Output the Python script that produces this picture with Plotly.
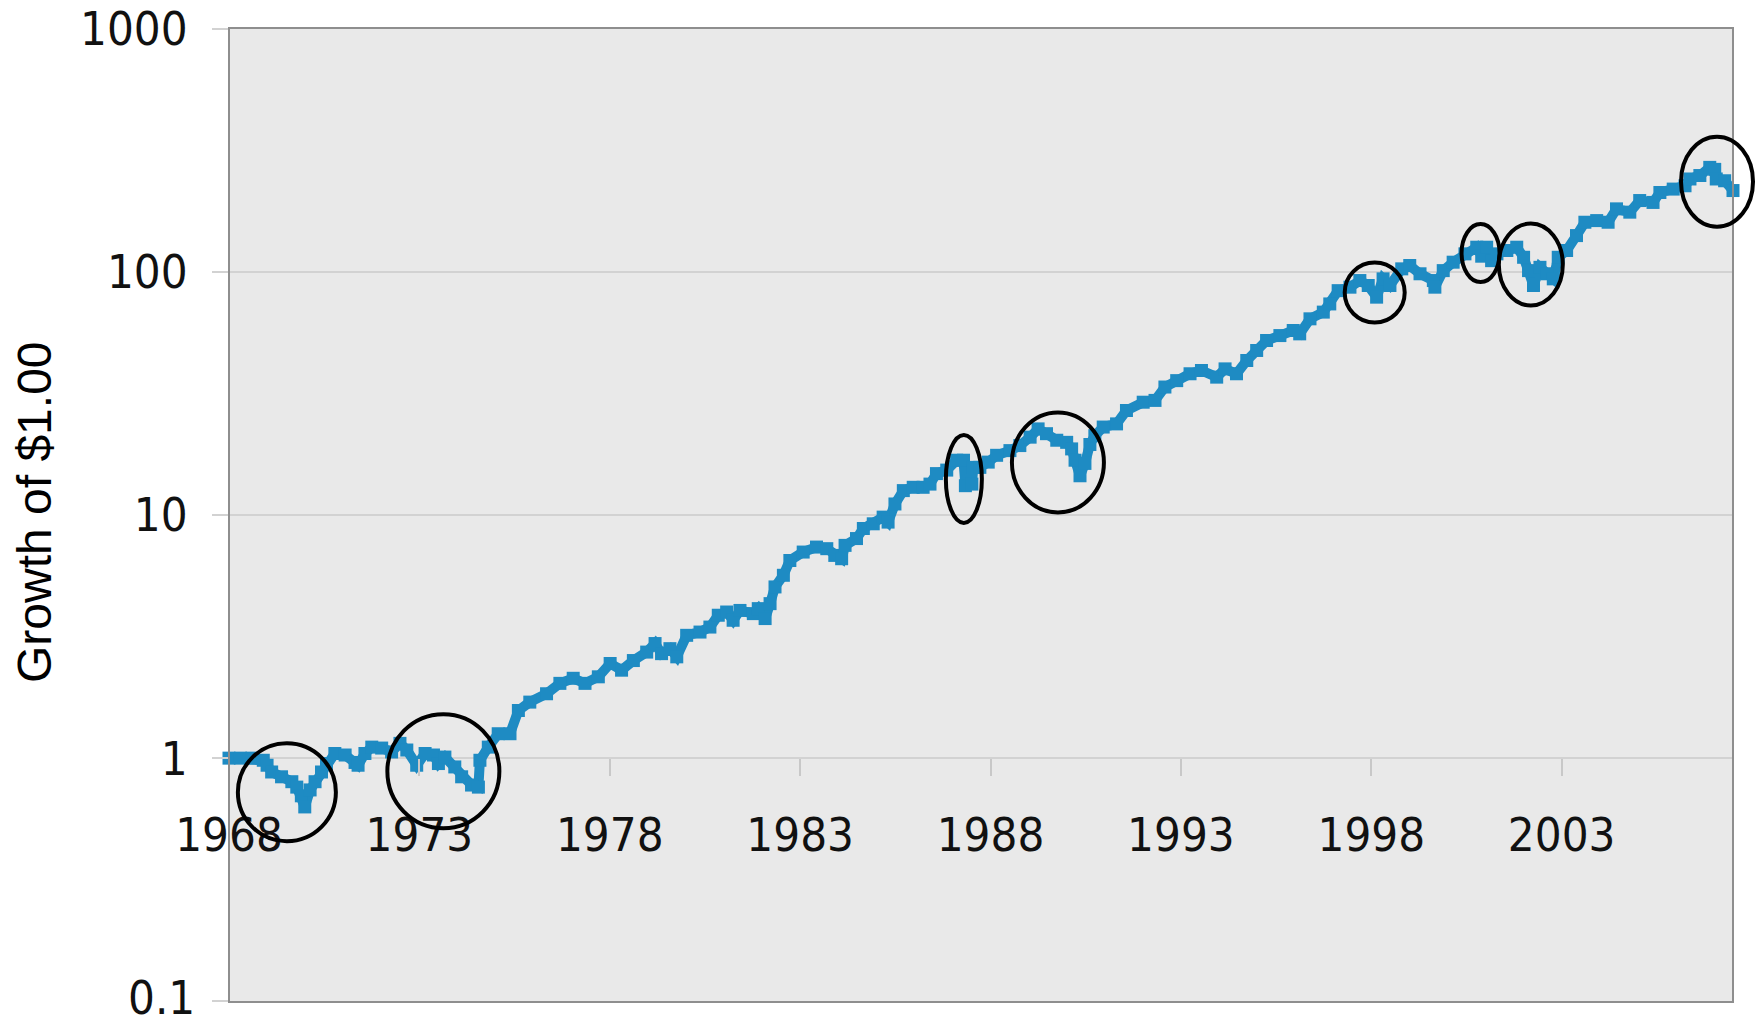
import math
import plotly.graph_objects as go

# ---- data (decimal year, growth of $1.00) ----
years = [
    1968.00, 1968.30, 1968.60, 1968.90, 1969.00, 1969.12, 1969.38, 1969.65, 1969.78, 1969.90,
    1969.99, 1970.13, 1970.26, 1970.43, 1970.56, 1970.78, 1971.05, 1971.31, 1971.39, 1971.57,
    1971.75, 1972.01, 1972.27, 1972.49, 1972.67, 1972.93, 1973.15, 1973.37, 1973.50, 1973.67,
    1973.93, 1974.11, 1974.37, 1974.55, 1974.59, 1974.81, 1975.07, 1975.38, 1975.60, 1975.90,
    1976.34, 1976.69, 1977.04, 1977.35, 1977.70, 1978.01, 1978.31, 1978.62, 1978.97, 1979.19,
    1979.36, 1979.58, 1979.76, 1980.02, 1980.37, 1980.63, 1980.85, 1981.07, 1981.24, 1981.42,
    1981.77, 1981.90, 1982.08, 1982.21, 1982.34, 1982.56, 1982.73, 1983.08, 1983.43, 1983.70,
    1983.91, 1984.09, 1984.18, 1984.48, 1984.66, 1984.92, 1985.18, 1985.31, 1985.49, 1985.71,
    1985.97, 1986.23, 1986.41, 1986.58, 1986.85, 1987.11, 1987.29, 1987.34, 1987.51, 1987.55,
    1987.72, 1987.94, 1988.16, 1988.51, 1988.77, 1989.04, 1989.25, 1989.47, 1989.74, 1990.00,
    1990.13, 1990.22, 1990.35, 1990.48, 1990.61, 1990.74, 1990.96, 1991.31, 1991.57, 1992.01,
    1992.32, 1992.58, 1992.89, 1993.24, 1993.54, 1993.94, 1994.16, 1994.46, 1994.73, 1994.99,
    1995.25, 1995.60, 1995.95, 1996.12, 1996.39, 1996.74, 1996.91, 1997.13, 1997.44, 1997.70,
    1997.92, 1998.14, 1998.31, 1998.49, 1998.80, 1999.01, 1999.28, 1999.63, 1999.67, 1999.89,
    2000.15, 2000.46, 2000.77, 2000.90, 2001.03, 2001.16, 2001.30, 2001.56, 2001.82, 2002.00,
    2002.13, 2002.26, 2002.43, 2002.61, 2002.78, 2002.91, 2003.13, 2003.39, 2003.61, 2003.92,
    2004.22, 2004.44, 2004.79, 2005.05, 2005.40, 2005.58, 2005.93, 2006.24, 2006.37, 2006.63,
    2006.89, 2007.02, 2007.06, 2007.28, 2007.50,
]
growth = [
    1.00, 1.00, 1.00, 0.98, 0.935, 0.877, 0.838, 0.80, 0.76, 0.70,
    0.63, 0.74, 0.80, 0.877, 0.95, 1.045, 1.03, 0.96, 0.935, 1.045,
    1.11, 1.10, 1.06, 1.15, 1.08, 0.935, 1.045, 1.03, 0.95, 1.01,
    0.92, 0.838, 0.775, 0.76, 0.98, 1.11, 1.26, 1.26, 1.57, 1.70,
    1.84, 2.03, 2.13, 2.03, 2.16, 2.45, 2.30, 2.52, 2.73, 2.96,
    2.69, 2.82, 2.61, 3.20, 3.30, 3.46, 3.87, 3.99, 3.69, 4.05,
    3.93, 4.12, 3.75, 4.32, 5.06, 5.65, 6.5, 7.04, 7.38, 7.27,
    6.82, 6.61, 7.50, 8.0, 8.8, 9.2, 9.8, 9.35, 11.1, 12.6,
    13.0, 13.0, 13.4, 14.8, 15.3, 16.8, 16.8, 13.2, 13.4, 15.7,
    15.7, 16.5, 17.6, 18.4, 19.3, 20.9, 22.6, 21.6, 20.3, 19.9,
    18.7, 16.8, 14.5, 16.3, 19.5, 21.2, 23.0, 23.7, 26.9, 29.1,
    29.6, 33.6, 35.7, 38.1, 39.3, 36.9, 39.9, 38.1, 43.2, 47.5,
    52.2, 54.7, 57.4, 55.6, 64.1, 68.3, 73.8, 83.7, 86.5, 92.1,
    87.9, 78.7, 93.6, 87.9, 102.9, 106.2, 98.2, 92.1, 86.5, 101.2,
    109.6, 118.6, 126.3, 116.0, 126.3, 111.2, 118.6, 122.4, 126.3, 114.8,
    101.2, 87.9, 104.4, 98.2, 93.6, 114.8, 122.4, 141.0, 160.0, 162.5,
    160.0, 181.6, 176.0, 196.5, 193.0, 212.0, 219.0, 226.0, 241.0, 249.0,
    269.0, 264.0, 241.0, 237.0, 216.0,
]

x_tick_years = [1968, 1973, 1978, 1983, 1988, 1993, 1998, 2003]
x_tick_labels = ["1968", "1973", "1978", "1983", "1988", "1993", "1998", "2003"]
y_tick_values = [0.1, 1, 10, 100, 1000]
y_tick_labels = ["0.1", "1", "10", "100", "1000"]

# highlighted drawdowns: (centre year, centre value, half-width px, half-height px)
highlights = [
    (1969.52, 0.724, 49, 49),
    (1973.63, 0.883, 56, 57),
    (1987.30, 14.07, 18, 44),
    (1989.77, 16.45, 46, 50),
    (1998.09, 82.2, 30, 30),
    (2000.87, 119.5, 19, 29),
    (2002.19, 107.2, 32, 41),
    (2007.08, 235.0, 36, 45),
]

X_RANGE = [1968, 2007.5]
EPS = 0.003
Y_RANGE = [-1 - EPS, 3 + EPS]  # log10

# page body margin is removed below; plot box at screen pixels 229..1733 x 28..1002
W, H = 1763, 1026
BOX_L, BOX_R, BOX_T, BOX_B = 229, 1733, 28, 1002
ML, MT = BOX_L, BOX_T
MR, MB = W - BOX_R, H - BOX_B
PW, PH = BOX_R - BOX_L, BOX_B - BOX_T

NARROW = "Liberation Sans Narrow, DejaVu Sans Condensed, Roboto Condensed, Arial Narrow, sans-serif"
BLUE = "#1E8BC3"
Y_TICKLEN, Y_STANDOFF, Y_FONT = 16, 15, 47

fig = go.Figure()
fig.add_trace(go.Scatter(
    x=years, y=growth, mode="lines+markers",
    line=dict(color=BLUE, width=10),
    marker=dict(symbol="square", size=13, color=BLUE),
    showlegend=False, cliponaxis=False,
))

shapes = [dict(type="rect", xref="paper", yref="paper", x0=0, y0=0, x1=1, y1=1,
               line=dict(color="#8E8E8E", width=2), layer="above")]
for yr, val, rx, ry in highlights:
    cx = (yr - X_RANGE[0]) / (X_RANGE[1] - X_RANGE[0])
    cy = (math.log10(val) - Y_RANGE[0]) / (Y_RANGE[1] - Y_RANGE[0])
    shapes.append(dict(type="circle", xref="paper", yref="paper",
                       x0=cx - rx / PW, x1=cx + rx / PW, y0=cy - ry / PH, y1=cy + ry / PH,
                       line=dict(color="black", width=4), layer="above"))

x_axis_pos = (math.log10(1) - Y_RANGE[0]) / (Y_RANGE[1] - Y_RANGE[0])

# the bottom tick label sits at the page edge; draw it as an annotation nudged inside
axis_texts = [y_tick_labels[0]] + [""] * 0
shown_y_labels = [""] + y_tick_labels[1:]

annotations = [
    dict(text="Growth of $1.00", xref="paper", yref="paper",
         x=(34 - BOX_L) / PW, y=(BOX_B - 512) / PH, xanchor="center", yanchor="middle",
         textangle=-90, showarrow=False,
         font=dict(family="Liberation Sans, Arial, sans-serif", size=48, color="black")),
    dict(text=y_tick_labels[0], xref="paper", yref="y",
         x=-(Y_TICKLEN + Y_STANDOFF + 2) / PW, y=math.log10(y_tick_values[0]),
         xanchor="right", yanchor="middle", yshift=4, showarrow=False,
         borderpad=0, font=dict(family=NARROW, size=Y_FONT, color="#111111")),
]

fig.update_layout(
    width=W, height=H,
    margin=dict(l=ML, r=MR, t=MT, b=MB, pad=0, autoexpand=False),
    paper_bgcolor="white", plot_bgcolor="#E9E9E9",
    shapes=shapes,
    xaxis=dict(
        range=X_RANGE, tickvals=x_tick_years, ticktext=x_tick_labels,
        anchor="free", position=x_axis_pos, automargin=False,
        showgrid=False, zeroline=False, showline=False,
        ticks="outside", ticklen=17, tickwidth=2, tickcolor="#C8C8C8",
        tickfont=dict(family=NARROW, size=47, color="#111111"),
        ticklabelstandoff=18, ticklabeloverflow="allow",
    ),
    yaxis=dict(
        type="log", range=Y_RANGE, tickvals=y_tick_values, ticktext=shown_y_labels,
        automargin=False,
        showgrid=True, gridcolor="#D2D2D2", gridwidth=2,
        zeroline=False, showline=False,
        ticks="outside", ticklen=Y_TICKLEN, tickwidth=2, tickcolor="#D2D2D2",
        tickfont=dict(family=NARROW, size=Y_FONT, color="#111111"),
        ticklabelstandoff=Y_STANDOFF, ticklabeloverflow="allow",
    ),
    annotations=annotations,
)

fig.write_html(
    "out.html",
    config={"displayModeBar": False},
    post_script="document.body.style.margin='0';document.body.style.overflow='hidden';",
)
